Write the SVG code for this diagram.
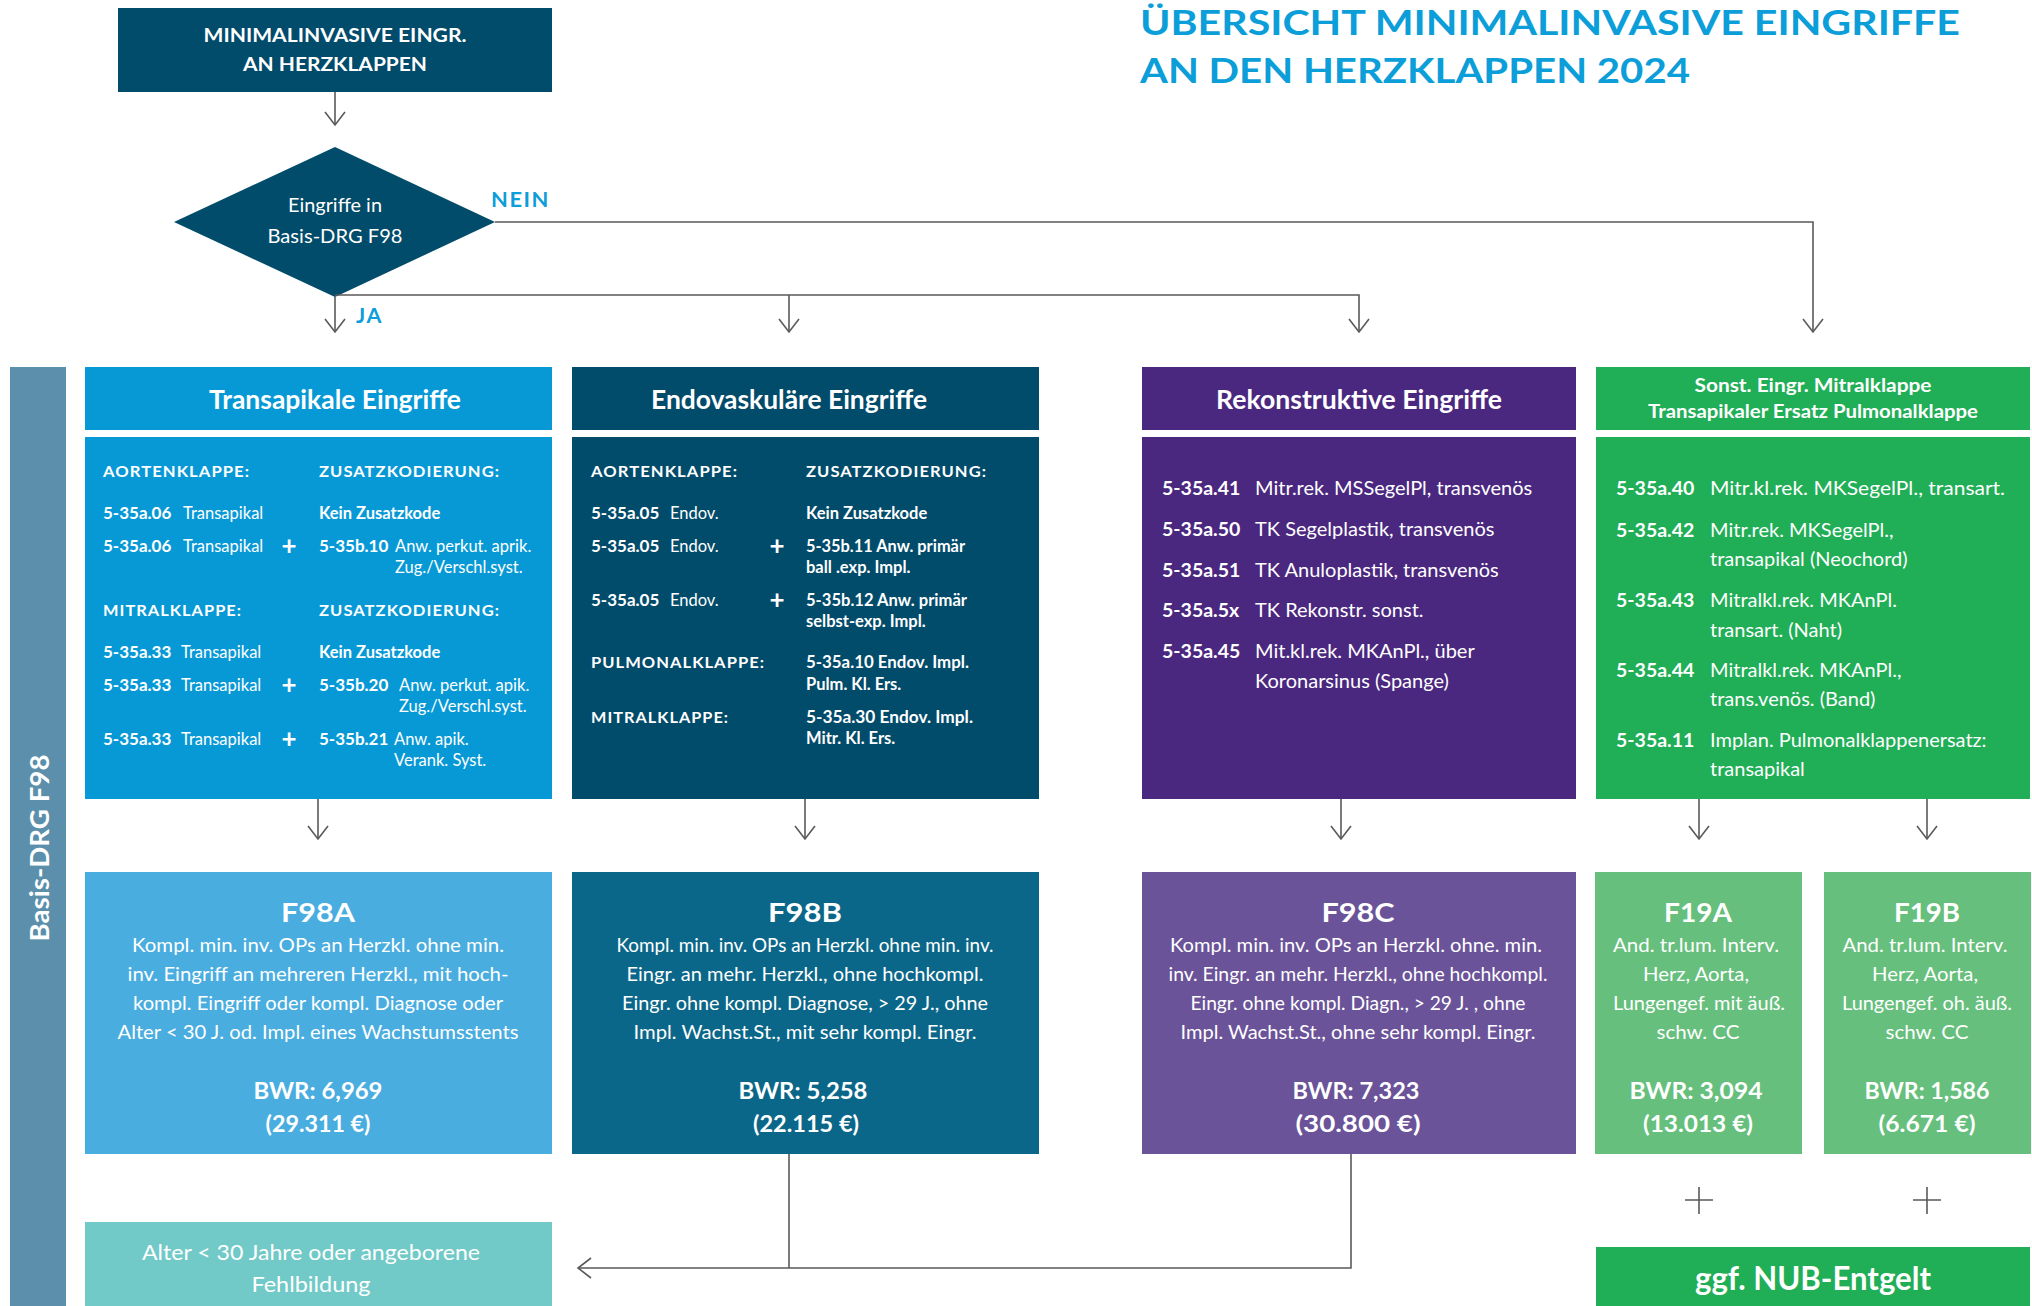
<svg xmlns="http://www.w3.org/2000/svg" width="2032" height="1306" viewBox="0 0 2032 1306">
<defs>
<style>
text{font-family:Lato,"Open Sans","Liberation Sans",sans-serif;fill:#fff}
.b{font-weight:bold}
.hdr{font-weight:bold;font-size:16px;letter-spacing:1px}
.code{font-weight:bold;font-size:17px}
.t{font-size:16.5px}
.tb{font-weight:bold;font-size:16.5px}
.plus{font-weight:bold;font-size:26px;text-anchor:middle}
.c3c{font-weight:bold;font-size:19.5px}
.c3t{font-size:20px}
.rt{font-weight:bold;font-size:27px;text-anchor:middle}
.rd{font-size:19px;text-anchor:middle}
.rb{font-weight:bold;font-size:23px;text-anchor:middle}
.ct{font-weight:bold;font-size:27px;text-anchor:middle}
.conn{fill:none;stroke:#5a5a5a;stroke-width:1.6}
.lbl{font-weight:bold;font-size:21px;fill:#0b9ed9;letter-spacing:1.5px}
</style>
<marker id="arr" viewBox="-14 -12 16 24" markerWidth="16" markerHeight="24" refX="0" refY="0" markerUnits="userSpaceOnUse" orient="auto">
<path d="M-13,-10 L0,0 L-13,10" fill="none" stroke="#5a5a5a" stroke-width="1.6"/>
</marker>
</defs>
<rect width="2032" height="1306" fill="#fff"/>

<g id="title">
<text x="1140" y="35" class="b" style="font-size:35px;fill:#0b9ed9" textLength="820" lengthAdjust="spacingAndGlyphs">ÜBERSICHT MINIMALINVASIVE EINGRIFFE</text>
<text x="1140" y="83" class="b" style="font-size:35px;fill:#0b9ed9" textLength="550" lengthAdjust="spacingAndGlyphs">AN DEN HERZKLAPPEN 2024</text>
</g>

<g id="start">
<rect x="118" y="8" width="434" height="84" fill="#014b6b"/>
<text x="335" y="42" class="b" style="font-size:19px;text-anchor:middle" textLength="263" lengthAdjust="spacingAndGlyphs">MINIMALINVASIVE EINGR.</text>
<text x="335" y="71" class="b" style="font-size:19px;text-anchor:middle" textLength="184" lengthAdjust="spacingAndGlyphs">AN HERZKLAPPEN</text>
</g>

<g id="decision">
<polygon points="335,147 495,222 335,297 174,222" fill="#014b6b"/>
<text x="335" y="212" style="font-size:19px;text-anchor:middle" textLength="94" lengthAdjust="spacingAndGlyphs">Eingriffe in</text>
<text x="335" y="243" style="font-size:19px;text-anchor:middle" textLength="135" lengthAdjust="spacingAndGlyphs">Basis-DRG F98</text>
</g>

<g id="sidebar">
<rect x="10" y="367" width="56" height="939" fill="#5b8fab"/>
<text transform="translate(49,848) rotate(-90)" class="b" style="font-size:26px;text-anchor:middle" textLength="187" lengthAdjust="spacingAndGlyphs">Basis-DRG F98</text>
</g>

<g id="connectors">
<path class="conn" d="M335,92 V125" marker-end="url(#arr)"/>
<path class="conn" d="M495,222 H1813 V332" marker-end="url(#arr)"/>
<path class="conn" d="M335,295 H1359 V332" marker-end="url(#arr)"/>
<path class="conn" d="M335,297 V332" marker-end="url(#arr)"/>
<path class="conn" d="M789,295 V332" marker-end="url(#arr)"/>
<path class="conn" d="M318,799 V839" marker-end="url(#arr)"/>
<path class="conn" d="M805,799 V839" marker-end="url(#arr)"/>
<path class="conn" d="M1341,799 V839" marker-end="url(#arr)"/>
<path class="conn" d="M1699,799 V839" marker-end="url(#arr)"/>
<path class="conn" d="M1927,799 V839" marker-end="url(#arr)"/>
<path class="conn" d="M789,1154 V1268"/>
<path class="conn" d="M1351,1154 V1268 H578" marker-end="url(#arr)"/>
<path class="conn" d="M1699,1187 V1214 M1685,1200 H1713"/>
<path class="conn" d="M1927,1187 V1214 M1913,1200 H1941"/>
<text x="491" y="207" class="lbl" textLength="59" lengthAdjust="spacingAndGlyphs">NEIN</text>
<text x="356" y="323" class="lbl" textLength="27" lengthAdjust="spacingAndGlyphs">JA</text>
</g>

<g id="col1">
<rect x="85" y="367" width="467" height="63" fill="#0799d6"/>
<text x="335" y="409" class="ct" textLength="252" lengthAdjust="spacingAndGlyphs">Transapikale Eingriffe</text>
<rect x="85" y="437" width="467" height="362" fill="#0799d6"/>
<text x="103" y="477" class="hdr" textLength="147" lengthAdjust="spacingAndGlyphs">AORTENKLAPPE:</text>
<text x="319" y="477" class="hdr" textLength="181" lengthAdjust="spacingAndGlyphs">ZUSATZKODIERUNG:</text>
<text x="103" y="519" class="code">5-35a.06</text><text x="183" y="519" class="t">Transapikal</text><text x="319" y="519" class="tb">Kein Zusatzkode</text>
<text x="103" y="552" class="code">5-35a.06</text><text x="183" y="552" class="t">Transapikal</text><text x="289" y="555" class="plus">+</text>
<text x="319" y="552" class="code">5-35b.10</text><text x="395" y="552" class="t">Anw. perkut. aprik.</text><text x="395" y="573" class="t">Zug./Verschl.syst.</text>
<text x="103" y="616" class="hdr" textLength="139" lengthAdjust="spacingAndGlyphs">MITRALKLAPPE:</text>
<text x="319" y="616" class="hdr" textLength="181" lengthAdjust="spacingAndGlyphs">ZUSATZKODIERUNG:</text>
<text x="103" y="658" class="code">5-35a.33</text><text x="181" y="658" class="t">Transapikal</text><text x="319" y="658" class="tb">Kein Zusatzkode</text>
<text x="103" y="691" class="code">5-35a.33</text><text x="181" y="691" class="t">Transapikal</text><text x="289" y="694" class="plus">+</text>
<text x="319" y="691" class="code">5-35b.20</text><text x="399" y="691" class="t">Anw. perkut. apik.</text><text x="399" y="712" class="t">Zug./Verschl.syst.</text>
<text x="103" y="745" class="code">5-35a.33</text><text x="181" y="745" class="t">Transapikal</text><text x="289" y="748" class="plus">+</text>
<text x="319" y="745" class="code">5-35b.21</text><text x="394" y="745" class="t">Anw. apik.</text><text x="394" y="766" class="t">Verank. Syst.</text>
</g>

<g id="col2">
<rect x="572" y="367" width="467" height="63" fill="#014b6b"/>
<text x="789" y="409" class="ct" textLength="276" lengthAdjust="spacingAndGlyphs">Endovaskuläre Eingriffe</text>
<rect x="572" y="437" width="467" height="362" fill="#014b6b"/>
<text x="591" y="477" class="hdr" textLength="147" lengthAdjust="spacingAndGlyphs">AORTENKLAPPE:</text>
<text x="806" y="477" class="hdr" textLength="181" lengthAdjust="spacingAndGlyphs">ZUSATZKODIERUNG:</text>
<text x="591" y="519" class="code">5-35a.05</text><text x="670" y="519" class="t">Endov.</text><text x="806" y="519" class="tb">Kein Zusatzkode</text>
<text x="591" y="552" class="code">5-35a.05</text><text x="670" y="552" class="t">Endov.</text><text x="777" y="555" class="plus">+</text>
<text x="806" y="552" class="tb" textLength="159" lengthAdjust="spacingAndGlyphs">5-35b.11 Anw. primär</text><text x="806" y="573" class="tb">ball .exp. Impl.</text>
<text x="591" y="606" class="code">5-35a.05</text><text x="670" y="606" class="t">Endov.</text><text x="777" y="609" class="plus">+</text>
<text x="806" y="606" class="tb" textLength="161" lengthAdjust="spacingAndGlyphs">5-35b.12 Anw. primär</text><text x="806" y="627" class="tb">selbst-exp. Impl.</text>
<text x="591" y="668" class="hdr" textLength="174" lengthAdjust="spacingAndGlyphs">PULMONALKLAPPE:</text>
<text x="806" y="668" class="tb" textLength="163" lengthAdjust="spacingAndGlyphs">5-35a.10 Endov. Impl.</text><text x="806" y="690" class="tb">Pulm. Kl. Ers.</text>
<text x="591" y="723" class="hdr" textLength="138" lengthAdjust="spacingAndGlyphs">MITRALKLAPPE:</text>
<text x="806" y="723" class="tb" textLength="167" lengthAdjust="spacingAndGlyphs">5-35a.30 Endov. Impl.</text><text x="806" y="744" class="tb">Mitr. Kl. Ers.</text>
</g>

<g id="col3">
<rect x="1142" y="367" width="434" height="63" fill="#4b2880"/>
<text x="1359" y="409" class="ct" textLength="286" lengthAdjust="spacingAndGlyphs">Rekonstruktive Eingriffe</text>
<rect x="1142" y="437" width="434" height="362" fill="#4b2880"/>
<text x="1162" y="495" class="c3c">5-35a.41</text><text x="1255" y="495" class="c3t">Mitr.rek. MSSegelPl, transvenös</text>
<text x="1162" y="536" class="c3c">5-35a.50</text><text x="1255" y="536" class="c3t">TK Segelplastik, transvenös</text>
<text x="1162" y="577" class="c3c">5-35a.51</text><text x="1255" y="577" class="c3t">TK Anuloplastik, transvenös</text>
<text x="1162" y="617" class="c3c">5-35a.5x</text><text x="1255" y="617" class="c3t">TK Rekonstr. sonst.</text>
<text x="1162" y="658" class="c3c">5-35a.45</text><text x="1255" y="658" class="c3t">Mit.kl.rek. MKAnPl., über</text>
<text x="1255" y="688" class="c3t">Koronarsinus (Spange)</text>
</g>

<g id="col4">
<rect x="1596" y="367" width="434" height="63" fill="#20ae56"/>
<text x="1813" y="392" class="b" style="font-size:19px;text-anchor:middle" textLength="237" lengthAdjust="spacingAndGlyphs">Sonst. Eingr. Mitralklappe</text>
<text x="1813" y="418" class="b" style="font-size:19px;text-anchor:middle" textLength="330" lengthAdjust="spacingAndGlyphs">Transapikaler Ersatz Pulmonalklappe</text>
<rect x="1596" y="437" width="434" height="362" fill="#20ae56"/>
<text x="1616" y="495" class="c3c">5-35a.40</text><text x="1710" y="495" class="c3t" textLength="295" lengthAdjust="spacingAndGlyphs">Mitr.kl.rek. MKSegelPl., transart.</text>
<text x="1616" y="537" class="c3c">5-35a.42</text><text x="1710" y="537" class="c3t">Mitr.rek. MKSegelPl.,</text>
<text x="1710" y="566" class="c3t">transapikal (Neochord)</text>
<text x="1616" y="607" class="c3c">5-35a.43</text><text x="1710" y="607" class="c3t">Mitralkl.rek. MKAnPl.</text>
<text x="1710" y="637" class="c3t">transart. (Naht)</text>
<text x="1616" y="677" class="c3c">5-35a.44</text><text x="1710" y="677" class="c3t">Mitralkl.rek. MKAnPl.,</text>
<text x="1710" y="706" class="c3t">trans.venös. (Band)</text>
<text x="1616" y="747" class="c3c">5-35a.11</text><text x="1710" y="747" class="c3t">Implan. Pulmonalklappenersatz:</text>
<text x="1710" y="776" class="c3t">transapikal</text>
</g>

<g id="f98a">
<rect x="85" y="872" width="467" height="282" fill="#4aade0"/>
<text x="318" y="922" class="rt" textLength="74" lengthAdjust="spacingAndGlyphs">F98A</text>
<text x="318" y="952" class="rd" textLength="372" lengthAdjust="spacingAndGlyphs">Kompl. min. inv. OPs an Herzkl. ohne min.</text>
<text x="318" y="981" class="rd" textLength="381" lengthAdjust="spacingAndGlyphs">inv. Eingriff an mehreren Herzkl., mit hoch-</text>
<text x="318" y="1010" class="rd" textLength="370" lengthAdjust="spacingAndGlyphs">kompl. Eingriff oder kompl. Diagnose oder</text>
<text x="318" y="1039" class="rd" textLength="401" lengthAdjust="spacingAndGlyphs">Alter &lt; 30 J. od. Impl. eines Wachstumsstents</text>
<text x="318" y="1099" class="rb" textLength="129" lengthAdjust="spacingAndGlyphs">BWR: 6,969</text>
<text x="318" y="1132" class="rb" textLength="105" lengthAdjust="spacingAndGlyphs">(29.311 €)</text>
</g>

<g id="f98b">
<rect x="572" y="872" width="467" height="282" fill="#0b6789"/>
<text x="805" y="922" class="rt" textLength="74" lengthAdjust="spacingAndGlyphs">F98B</text>
<text x="805" y="952" class="rd" textLength="377" lengthAdjust="spacingAndGlyphs">Kompl. min. inv. OPs an Herzkl. ohne min. inv.</text>
<text x="805" y="981" class="rd" textLength="357" lengthAdjust="spacingAndGlyphs">Eingr. an mehr. Herzkl., ohne hochkompl.</text>
<text x="805" y="1010" class="rd" textLength="366" lengthAdjust="spacingAndGlyphs">Eingr. ohne kompl. Diagnose, &gt; 29 J., ohne</text>
<text x="805" y="1039" class="rd" textLength="343" lengthAdjust="spacingAndGlyphs">Impl. Wachst.St., mit sehr kompl. Eingr.</text>
<text x="803" y="1099" class="rb" textLength="129" lengthAdjust="spacingAndGlyphs">BWR: 5,258</text>
<text x="806" y="1132" class="rb" textLength="106" lengthAdjust="spacingAndGlyphs">(22.115 €)</text>
</g>

<g id="f98c">
<rect x="1142" y="872" width="434" height="282" fill="#6a5399"/>
<text x="1358" y="922" class="rt" textLength="73" lengthAdjust="spacingAndGlyphs">F98C</text>
<text x="1356" y="952" class="rd" textLength="372" lengthAdjust="spacingAndGlyphs">Kompl. min. inv. OPs an Herzkl. ohne. min.</text>
<text x="1358" y="981" class="rd" textLength="379" lengthAdjust="spacingAndGlyphs">inv. Eingr. an mehr. Herzkl., ohne hochkompl.</text>
<text x="1358" y="1010" class="rd" textLength="335" lengthAdjust="spacingAndGlyphs">Eingr. ohne kompl. Diagn., &gt; 29 J. , ohne</text>
<text x="1358" y="1039" class="rd" textLength="355" lengthAdjust="spacingAndGlyphs">Impl. Wachst.St., ohne sehr kompl. Eingr.</text>
<text x="1356" y="1099" class="rb" textLength="127" lengthAdjust="spacingAndGlyphs">BWR: 7,323</text>
<text x="1358" y="1132" class="rb" textLength="125" lengthAdjust="spacingAndGlyphs">(30.800 €)</text>
</g>

<g id="f19a">
<rect x="1595" y="872" width="207" height="282" fill="#66bf7d"/>
<text x="1698" y="922" class="rt" textLength="68" lengthAdjust="spacingAndGlyphs">F19A</text>
<text x="1696" y="952" class="rd" textLength="166" lengthAdjust="spacingAndGlyphs">And. tr.lum. Interv.</text>
<text x="1696" y="981" class="rd" textLength="106" lengthAdjust="spacingAndGlyphs">Herz, Aorta,</text>
<text x="1699" y="1010" class="rd" textLength="172" lengthAdjust="spacingAndGlyphs">Lungengef. mit äuß.</text>
<text x="1698" y="1039" class="rd" textLength="83" lengthAdjust="spacingAndGlyphs">schw. CC</text>
<text x="1696" y="1099" class="rb" textLength="133" lengthAdjust="spacingAndGlyphs">BWR: 3,094</text>
<text x="1698" y="1132" class="rb" textLength="110" lengthAdjust="spacingAndGlyphs">(13.013 €)</text>
</g>

<g id="f19b">
<rect x="1824" y="872" width="207" height="282" fill="#66bf7d"/>
<text x="1927" y="922" class="rt" textLength="66" lengthAdjust="spacingAndGlyphs">F19B</text>
<text x="1925" y="952" class="rd" textLength="165" lengthAdjust="spacingAndGlyphs">And. tr.lum. Interv.</text>
<text x="1925" y="981" class="rd" textLength="106" lengthAdjust="spacingAndGlyphs">Herz, Aorta,</text>
<text x="1927" y="1010" class="rd" textLength="170" lengthAdjust="spacingAndGlyphs">Lungengef. oh. äuß.</text>
<text x="1927" y="1039" class="rd" textLength="83" lengthAdjust="spacingAndGlyphs">schw. CC</text>
<text x="1927" y="1099" class="rb" textLength="125" lengthAdjust="spacingAndGlyphs">BWR: 1,586</text>
<text x="1927" y="1132" class="rb" textLength="97" lengthAdjust="spacingAndGlyphs">(6.671 €)</text>
</g>

<g id="alter">
<rect x="85" y="1222" width="467" height="84" fill="#71cac7"/>
<text x="311" y="1260" style="font-size:22px;text-anchor:middle" textLength="338" lengthAdjust="spacingAndGlyphs">Alter &lt; 30 Jahre oder angeborene</text>
<text x="311" y="1292" style="font-size:22px;text-anchor:middle" textLength="119" lengthAdjust="spacingAndGlyphs">Fehlbildung</text>
</g>

<g id="nub">
<rect x="1596" y="1247" width="434" height="59" fill="#20ae56"/>
<text x="1813" y="1290" class="b" style="font-size:32px;text-anchor:middle" textLength="236" lengthAdjust="spacingAndGlyphs">ggf. NUB-Entgelt</text>
</g>
</svg>
